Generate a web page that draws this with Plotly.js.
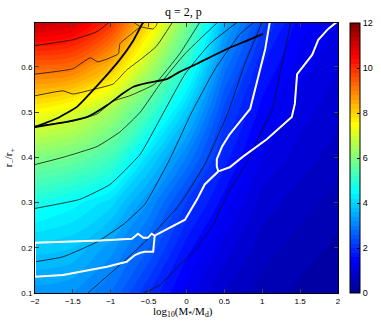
<!DOCTYPE html>
<html>
<head>
<meta charset="utf-8">
<script src="https://cdn.plot.ly/plotly-3.0.1.min.js"></script>
<style>
  html, body { margin: 0; padding: 0; background: #fff; }
  #plot { width: 381px; height: 322px; }
</style>
</head>
<body>
<div id="plot"></div>
<script>
// colour field (rows: r-/r+, cols: log10(M*/Md))
const xVals = [-2, -1.5, -1, -0.5, 0, 0.5, 1, 1.5, 2];
const yVals = [0.1, 0.2, 0.3, 0.4, 0.5, 0.6, 0.7];
const zField = [
  [3.3, 3.2, 2.8, 2.0, 1.3, 0.8, 0.5, 0.35, 0.2],
  [3.9, 3.8, 3.3, 2.6, 1.7, 1.1, 0.7, 0.5, 0.35],
  [4.8, 4.5, 4.1, 3.2, 2.2, 1.5, 0.9, 0.7, 0.5],
  [6.0, 5.8, 5.3, 4.1, 3.0, 1.9, 1.2, 0.9, 0.7],
  [7.5, 7.1, 6.4, 5.3, 3.9, 2.3, 1.5, 1.1, 0.85],
  [9.3, 9.2, 8.3, 6.6, 5.0, 2.9, 1.8, 1.3, 1.0],
  [11.3, 11.0, 10.0, 8.0, 6.0, 3.6, 2.3, 1.5, 1.2]
];
const cbTicks = [0, 2, 4, 6, 8, 10, 12];
const xTicks = [-2, -1.5, -1, -0.5, 0, 0.5, 1, 1.5, 2];
const yTicks = [0.1, 0.2, 0.3, 0.4, 0.5, 0.6];

// thin black contours
const l10x = [-2, -1.5, -1.18, -1.01];
const l10y = [0.647, 0.66, 0.678, 0.7];
const l9x = [-2, -1.5, -1.27, -1.17, -0.9, -0.88, -0.77, -0.61, -0.55];
const l9y = [0.584, 0.596, 0.62, 0.611, 0.629, 0.651, 0.667, 0.689, 0.7];
const l8x = [-2, -1.63, -1.5, -1.21, -0.97, -0.79, -0.61, -0.4, -0.18];
const l8y = [0.536, 0.547, 0.54, 0.551, 0.562, 0.593, 0.616, 0.645, 0.7];
const l7x = [-2, -1.5, -1.18, -0.97, -0.75, -0.42, -0.09, 0.18];
const l7y = [0.469, 0.48, 0.496, 0.524, 0.536, 0.562, 0.629, 0.7];
const l6x = [-2, -1.63, -1.18, -0.88, -0.61, -0.35, -0.02, 0.42];
const l6y = [0.384, 0.4, 0.424, 0.456, 0.5, 0.562, 0.629, 0.7];
const l5x = [-2, -1.41, -1.01, -0.61, -0.3, -0.02, 0.31, 0.68];
const l5y = [0.287, 0.307, 0.34, 0.407, 0.5, 0.584, 0.651, 0.7];
const l4x = [-2, -1.63, -1.18, -0.84, -0.55, -0.22, 0.07, 0.38, 0.71, 0.9];
const l4y = [0.169, 0.18, 0.213, 0.251, 0.296, 0.396, 0.5, 0.596, 0.673, 0.7];
const l3x = [-1.3, -0.88, -0.48, -0.09, 0.24, 0.55, 0.77, 1.0];
const l3y = [0.1, 0.162, 0.224, 0.296, 0.384, 0.5, 0.607, 0.7];
const l2x = [-0.57, -0.35, -0.09, 0.14, 0.35, 0.57, 0.8, 1.0, 1.14, 1.26, 1.38];
const l2y = [0.1, 0.118, 0.162, 0.2, 0.251, 0.329, 0.389, 0.462, 0.511, 0.607, 0.7];
const dipX = [-0.71, -0.61, -0.44, -0.4, -0.38];
const dipY = [0.7, 0.689, 0.684, 0.691, 0.7];

// thick black curves
const thick1X = [-2, -1.7, -1.45, -1.17, -0.88, -0.71, -0.57];
const thick1Y = [0.467, 0.487, 0.511, 0.56, 0.616, 0.656, 0.7];
const thick2X = [-2, -1.6, -1.3, -1.05, -0.85, -0.7, -0.5, -0.26, -0.09, 0.14, 0.54, 0.8, 1.01];
const thick2Y = [0.467, 0.478, 0.49, 0.515, 0.54, 0.556, 0.565, 0.573, 0.589, 0.607, 0.64, 0.658, 0.673];

// white curves
const w1X = [1.1, 1.04, 0.94, 0.84, 0.71, 0.57, 0.47, 0.4, 0.4, 0.42, 0.24, 0.14, -0.02, -0.22, -0.42,
  -0.46, -0.51, -0.57, -0.64, -0.72, -1.14, -2, -2, -1.63, -1.05, -0.79, -0.68, -0.61, -0.55, -0.44, -0.42];
const w1Y = [0.7, 0.64, 0.573, 0.507, 0.48, 0.451, 0.424, 0.396, 0.38, 0.369, 0.34, 0.307, 0.262, 0.244, 0.227,
  0.231, 0.222, 0.222, 0.231, 0.22, 0.216, 0.211, 0.136, 0.14, 0.158, 0.169, 0.184, 0.189, 0.191, 0.191, 0.227];
const w2X = [1.99, 1.87, 1.74, 1.66, 1.46, 1.43, 1.39, 1.06, 0.75, 0.57, 0.42];
const w2Y = [0.7, 0.684, 0.66, 0.627, 0.584, 0.518, 0.489, 0.44, 0.402, 0.378, 0.369];

const jet = [
  [0, 'rgb(0,0,143)'], [0.125, 'rgb(0,0,255)'], [0.375, 'rgb(0,255,255)'],
  [0.625, 'rgb(255,255,0)'], [0.875, 'rgb(255,0,0)'], [1, 'rgb(128,0,0)']
];

function lineTrace (x, y, color, width) {
  return {
    type: 'scatter', mode: 'lines', x: x, y: y,
    line: { color: color, width: width, shape: 'spline', smoothing: 0.4 },
    hoverinfo: 'skip', showlegend: false
  };
}

const data = [
  {
    type: 'contour',
    x: xVals, y: yVals, z: zField,
    zmin: 0, zmax: 12, zauto: false,
    autocontour: false,
    contours: { start: 0, end: 12, size: 0.2, coloring: 'fill', showlines: false },
    line: { width: 0, smoothing: 1 },
    colorscale: jet,
    hoverinfo: 'skip',
    colorbar: {
      x: 1.04, xanchor: 'left', xpad: 0,
      y: 0.5, yanchor: 'middle', len: 1, lenmode: 'fraction',
      thickness: 10, thicknessmode: 'pixels', ypad: 0,
      outlinewidth: 1, outlinecolor: '#000',
      tickvals: cbTicks, ticks: 'inside', ticklen: 3, tickcolor: '#000',
      tickfont: { family: 'Liberation Sans, Arial, sans-serif', size: 9, color: '#000' }
    }
  },
  lineTrace(l10x, l10y, '#111', 0.8),
  lineTrace(l9x, l9y, '#111', 0.8),
  lineTrace(l8x, l8y, '#111', 0.8),
  lineTrace(l7x, l7y, '#111', 0.8),
  lineTrace(l6x, l6y, '#111', 0.8),
  lineTrace(l5x, l5y, '#111', 0.8),
  lineTrace(l4x, l4y, '#111', 0.8),
  lineTrace(l3x, l3y, '#111', 0.8),
  lineTrace(l2x, l2y, '#111', 0.8),
  lineTrace(dipX, dipY, '#111', 0.8),
  lineTrace(thick1X, thick1Y, '#000', 1.8),
  lineTrace(thick2X, thick2Y, '#000', 1.8),
  {
    type: 'scatter', mode: 'lines', x: w1X, y: w1Y,
    line: { color: '#fff', width: 2 }, hoverinfo: 'skip', showlegend: false
  },
  {
    type: 'scatter', mode: 'lines', x: w2X, y: w2Y,
    line: { color: '#fff', width: 2 }, hoverinfo: 'skip', showlegend: false
  }
];

const axisFont = { family: 'Liberation Sans, Arial, sans-serif', size: 8, color: '#000' };

const layout = {
  width: 381, height: 322,
  margin: { l: 35, r: 43, t: 23, b: 29, autoexpand: false },
  paper_bgcolor: '#fff', plot_bgcolor: '#fff',
  showlegend: false,
  title: {
    text: 'q = 2, p',
    font: { family: 'Liberation Serif, Times New Roman, serif', size: 12, color: '#000' },
    x: 0.49, xanchor: 'center', xref: 'paper',
    y: 0.962, yanchor: 'middle', yref: 'container'
  },
  xaxis: {
    range: [-2, 2], tickvals: xTicks, ticks: 'inside', ticklen: 4,
    showline: true, mirror: 'ticks', linecolor: '#000', linewidth: 1,
    showgrid: false, zeroline: false, tickfont: axisFont, automargin: false
  },
  yaxis: {
    range: [0.1, 0.697], tickvals: yTicks, ticks: 'inside', ticklen: 4,
    showline: true, mirror: 'ticks', linecolor: '#000', linewidth: 1,
    showgrid: false, zeroline: false, tickfont: axisFont, automargin: false
  },
  annotations: [
    {
      text: 'log<sub>10</sub>(M<sub>*</sub>/M<sub>d</sub>)',
      xref: 'paper', yref: 'paper', x: 0.49, y: -0.037, xanchor: 'center', yanchor: 'top',
      showarrow: false,
      font: { family: 'Liberation Serif, Times New Roman, serif', size: 11, color: '#000' }
    },
    {
      text: 'r<sub>\u2212</sub>/r<sub>+</sub>',
      xref: 'paper', yref: 'paper', x: -0.085, y: 0.5, xanchor: 'center', yanchor: 'middle',
      textangle: -90, showarrow: false,
      font: { family: 'Liberation Serif, Times New Roman, serif', size: 11, color: '#000' }
    }
  ]
};

Plotly.newPlot('plot', data, layout, { displayModeBar: false, staticPlot: true });
</script>
</body>
</html>
